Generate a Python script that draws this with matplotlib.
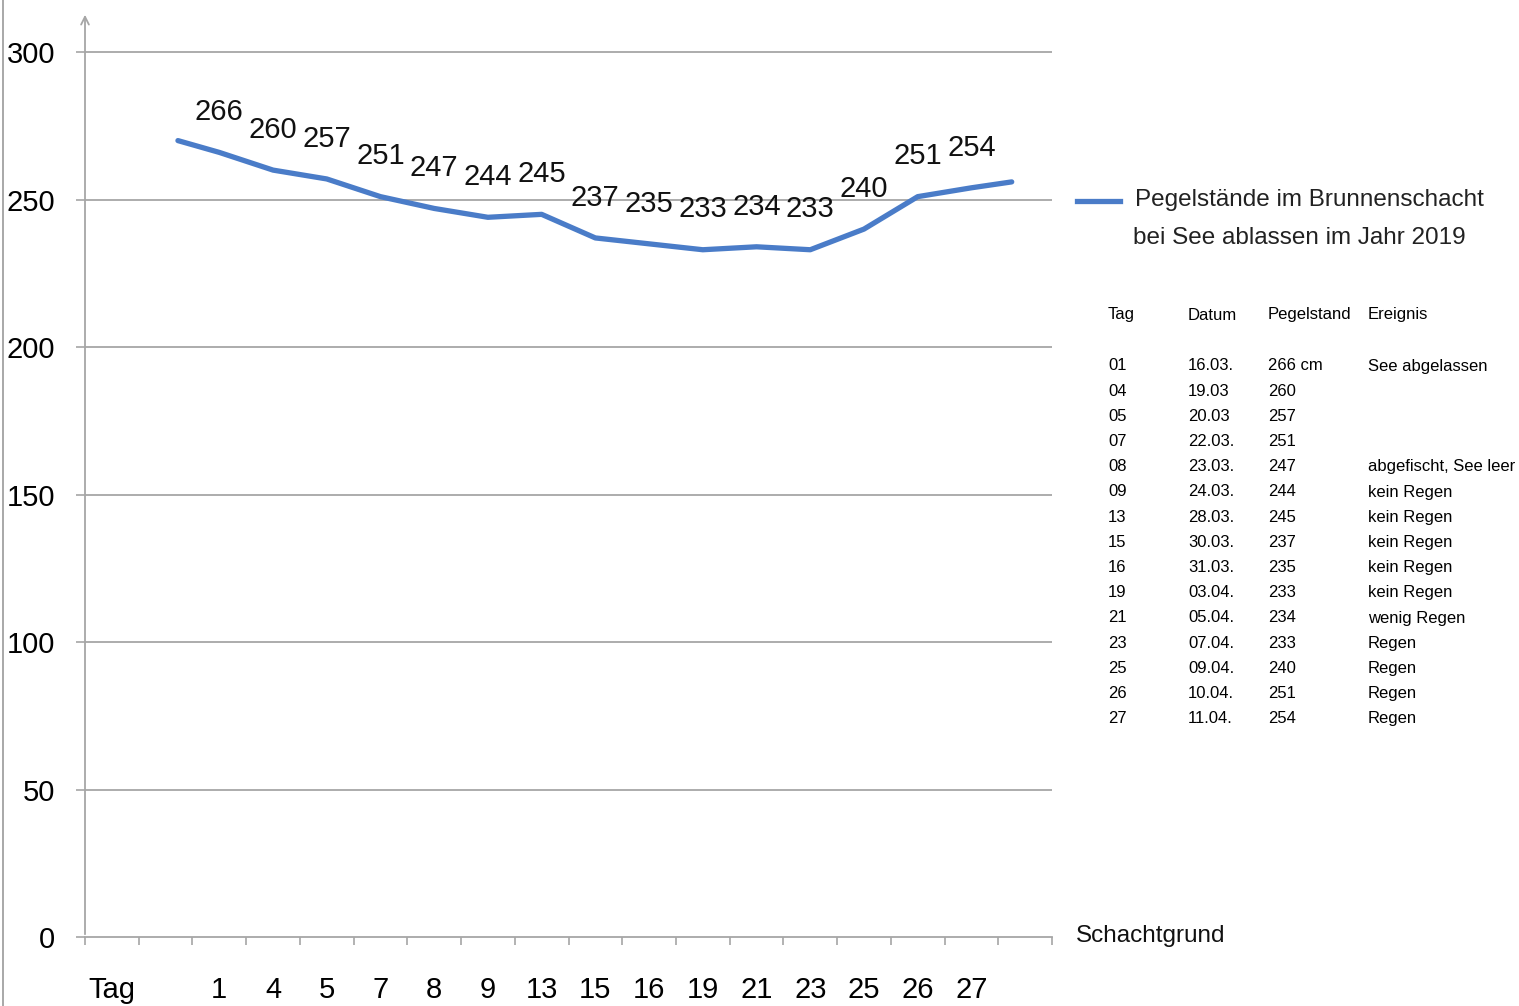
import matplotlib.pyplot as plt
from matplotlib.lines import Line2D

# Pegelstaende (cm) im Brunnenschacht
tage = ['1', '4', '5', '7', '8', '9', '13', '15', '16', '19', '21', '23', '25', '26', '27']
pegel = [266, 260, 257, 251, 247, 244, 245, 237, 235, 233, 234, 233, 240, 251, 254]
# the drawn curve runs a little past the first and last day
start_x, start_pegel = 1.23, 270
end_x, end_pegel = 16.75, 256

x_labels = ['Tag', ''] + tage + ['']
y_ticks = [0, 50, 100, 150, 200, 250, 300]

tab_header = ['Tag', 'Datum', 'Pegelstand', 'Ereignis']
tab_tag = ['01', '04', '05', '07', '08', '09', '13', '15', '16', '19', '21', '23', '25', '26', '27']
tab_datum = ['16.03.', '19.03', '20.03', '22.03.', '23.03.', '24.03.', '28.03.', '30.03.',
             '31.03.', '03.04.', '05.04.', '07.04.', '09.04.', '10.04.', '11.04.']
tab_pegel = ['266 cm', '260', '257', '251', '247', '244', '245', '237', '235', '233',
             '234', '233', '240', '251', '254']
tab_ereignis = ['See abgelassen', '', '', '', 'abgefischt, See leer', 'kein Regen', 'kein Regen',
                'kein Regen', 'kein Regen', 'kein Regen', 'wenig Regen', 'Regen', 'Regen',
                'Regen', 'Regen']

plt.rcParams['font.family'] = ['Liberation Sans', 'DejaVu Sans']

W, H = 1519, 1006
fig = plt.figure(figsize=(W / 100, H / 100), dpi=100)
ax = fig.add_axes([85 / W, 1 - 937 / H, (1052 - 85) / W, (937 - 12) / H])

blue = '#4a7cc8'
grid = '#a6a6a6'

xs = [start_x] + list(range(2, 2 + len(tage))) + [end_x]
ys = [start_pegel] + pegel + [end_pegel]
ax.plot(xs, ys, color=blue, lw=3.8, solid_capstyle='round', solid_joinstyle='round', zorder=3)

for i, v in enumerate(pegel):
    ax.annotate(str(v), (i + 2, v), xytext=(0, 29), textcoords='offset points',
                ha='center', va='center', fontsize=21, color='#111111')

ax.set_xlim(-0.5, 17.5)
ax.set_ylim(0, 313.6)
ax.set_yticks(y_ticks)
ax.set_yticklabels([str(t) for t in y_ticks], fontsize=21)
for t in y_ticks[1:]:
    ax.axhline(t, color=grid, lw=1.3, zorder=1)
ax.tick_params(axis='y', length=6.5, color=grid, width=1.2, pad=15)

ax.set_xticks(range(len(x_labels)))
ax.set_xticklabels(x_labels, fontsize=21)
ax.set_xticks([i - 0.5 for i in range(len(x_labels) + 1)], minor=True)
ax.tick_params(axis='x', which='major', length=0, pad=28)
ax.tick_params(axis='x', which='minor', length=6, color=grid, width=1.2)

for s in ['top', 'right', 'left']:
    ax.spines[s].set_visible(False)
ax.spines['bottom'].set_color(grid)
ax.spines['bottom'].set_linewidth(1.3)
ax.annotate('', xy=(-0.5, 313.6), xytext=(-0.5, 0), xycoords='data',
            arrowprops=dict(arrowstyle='->', color=grid, lw=1.3, mutation_scale=14),
            annotation_clip=False)

# thin border at the left edge of the picture
fig.add_artist(Line2D([3 / W, 3 / W], [0, 1], color='#9a9a9a', lw=1.2))

# legend
fig.add_artist(Line2D([1077 / W, 1120 / W], [1 - 201 / H, 1 - 201 / H], color=blue, lw=3.8))
fig.text(1135 / W, 1 - 200 / H, 'Pegelstände im Brunnenschacht', fontsize=17.5,
         va='center', ha='left', color='#222222')
fig.text(1133 / W, 1 - 238 / H, 'bei See ablassen im Jahr 2019', fontsize=17.5,
         va='center', ha='left', color='#222222')

fig.text(1076 / W, 1 - 936 / H, 'Schachtgrund', fontsize=17.5, va='center', ha='left',
         color='#111111')

# table
col_x = [1108, 1188, 1268, 1368]
for cx, h in zip(col_x, tab_header):
    fig.text(cx / W, 1 - 315 / H, h, fontsize=12, va='center', ha='left')
for r, row in enumerate(zip(tab_tag, tab_datum, tab_pegel, tab_ereignis)):
    y = 366 + r * 25.2
    for cx, cell in zip(col_x, row):
        fig.text(cx / W, 1 - y / H, cell, fontsize=12, va='center', ha='left')

fig.savefig('out.png', dpi=100)
